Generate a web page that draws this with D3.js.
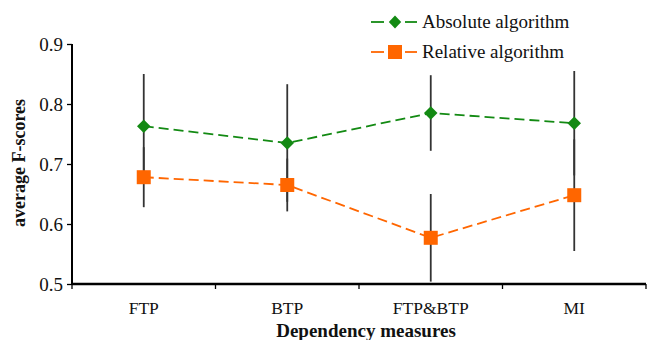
<!DOCTYPE html>
<html><head><meta charset="utf-8">
<script src="https://cdn.jsdelivr.net/npm/d3@7"></script>
<style>body{margin:0;background:#fff}svg{display:block}</style>
</head><body><svg id="c" width="647" height="340"></svg>
<script>
const categories = ["FTP", "BTP", "FTP&BTP", "MI"];
const absoluteValues = [0.763, 0.735, 0.785, 0.768];
const absoluteErr = [0.087, 0.098, 0.063, 0.087];
const relativeValues = [0.678, 0.665, 0.577, 0.648];
const relativeErr = [0.050, 0.044, 0.073, 0.093];
const yTicks = [0.5, 0.6, 0.7, 0.8, 0.9];
const seriesNames = ["Absolute algorithm", "Relative algorithm"];

const FONT = "'Liberation Serif', 'DejaVu Serif', serif";
const svg = d3.select("#c").attr("font-family", FONT);
const m = {l: 72, r: 1, t: 44, b: 56};
const W = 647, H = 340;
const x = d3.scaleBand().domain(categories).range([m.l, W - m.r]);
const y = d3.scaleLinear().domain([0.5, 0.9]).range([H - m.b, m.t]);
const cx = d => x(d) + x.bandwidth() / 2;

// Y axis
const ya = svg.append("g").attr("transform", `translate(${m.l},0)`)
  .call(d3.axisLeft(y).tickValues(yTicks).tickFormat(d3.format(".1f")).tickSize(5).tickPadding(4));
ya.attr("font-family", FONT);
ya.select(".domain").attr("stroke", "#000").attr("stroke-width", 2).attr("d", `M0,${m.t}V${H - m.b}`);
ya.selectAll(".tick line").attr("stroke", "#000").attr("stroke-width", 1.3);
ya.selectAll(".tick text").attr("font-size", 19).attr("fill", "#111");

// X axis
const xa = svg.append("g").attr("transform", `translate(0,${H - m.b})`);
xa.append("line").attr("x1", m.l).attr("x2", W - m.r).attr("stroke", "#000").attr("stroke-width", 2.5);
const bounds = categories.map(c => x(c)).concat([x(categories[categories.length - 1]) + x.bandwidth()]);
xa.selectAll("line.tk").data(bounds).join("line").attr("class", "tk")
  .attr("x1", d => d).attr("x2", d => d).attr("y1", 0).attr("y2", 5).attr("stroke", "#000").attr("stroke-width", 1.3);
xa.selectAll("text").data(categories).join("text")
  .attr("x", d => cx(d)).attr("y", 30).attr("text-anchor", "middle")
  .attr("font-size", 17.5).attr("fill", "#111").text(d => d);

// Axis titles
svg.append("text").attr("x", 366).attr("y", 337).attr("text-anchor", "middle")
  .attr("font-size", 19).attr("font-weight", "bold").attr("fill", "#111").text("Dependency measures");
svg.append("text").attr("transform", `translate(25,${(m.t + H - m.b) / 2 - 1}) rotate(-90)`)
  .attr("text-anchor", "middle").attr("font-size", 18).attr("font-weight", "bold").attr("fill", "#111").text("average F-scores");

// Error bars
const eb = svg.append("g").attr("stroke", "#333").attr("stroke-width", 1.8);
const errs = [];
categories.forEach((c, i) => {
  errs.push({c, lo: absoluteValues[i] - absoluteErr[i], hi: absoluteValues[i] + absoluteErr[i]});
  errs.push({c, lo: relativeValues[i] - relativeErr[i], hi: relativeValues[i] + relativeErr[i]});
});
eb.selectAll("line").data(errs).join("line")
  .attr("x1", d => cx(d.c)).attr("x2", d => cx(d.c)).attr("y1", d => y(d.lo)).attr("y2", d => y(d.hi));

// Lines
const line = d3.line().x((d, i) => cx(categories[i])).y(d => y(d));
const green = "#138a13", orange = "#ff6600";
svg.append("path").attr("d", line(absoluteValues)).attr("fill", "none").attr("stroke", green).attr("stroke-width", 1.8).attr("stroke-dasharray", "10,5");
svg.append("path").attr("d", line(relativeValues)).attr("fill", "none").attr("stroke", orange).attr("stroke-width", 1.8).attr("stroke-dasharray", "10,5");

const diamond = d3.symbol().type(d3.symbolDiamond).size(52);
svg.selectAll("path.abs").data(absoluteValues).join("path").attr("class", "abs")
  .attr("transform", (d, i) => `translate(${cx(categories[i])},${y(d)}) scale(1.75,1)`)
  .attr("d", diamond).attr("fill", green);
svg.selectAll("rect.rel").data(relativeValues).join("rect").attr("class", "rel")
  .attr("x", (d, i) => cx(categories[i]) - 7).attr("y", d => y(d) - 7).attr("width", 14).attr("height", 14).attr("fill", orange);

// Legend
const lg = svg.append("g");
const lgRows = [{name: seriesNames[0], color: green, sym: "d", yy: 22}, {name: seriesNames[1], color: orange, sym: "s", yy: 52}];
lgRows.forEach(r => {
  lg.append("line").attr("x1", 371).attr("x2", 384).attr("y1", r.yy).attr("y2", r.yy).attr("stroke", r.color).attr("stroke-width", 1.8);
  lg.append("line").attr("x1", 405).attr("x2", 417).attr("y1", r.yy).attr("y2", r.yy).attr("stroke", r.color).attr("stroke-width", 1.8);
  if (r.sym === "d") lg.append("path").attr("d", diamond).attr("transform", `translate(395,${r.yy}) scale(1.6,0.95)`).attr("fill", r.color);
  else lg.append("rect").attr("x", 388).attr("y", r.yy - 7).attr("width", 14).attr("height", 14).attr("fill", r.color);
  lg.append("text").attr("x", 422).attr("y", r.yy + 6).attr("font-size", 19).attr("fill", "#111").text(r.name);
});
</script></body></html>
